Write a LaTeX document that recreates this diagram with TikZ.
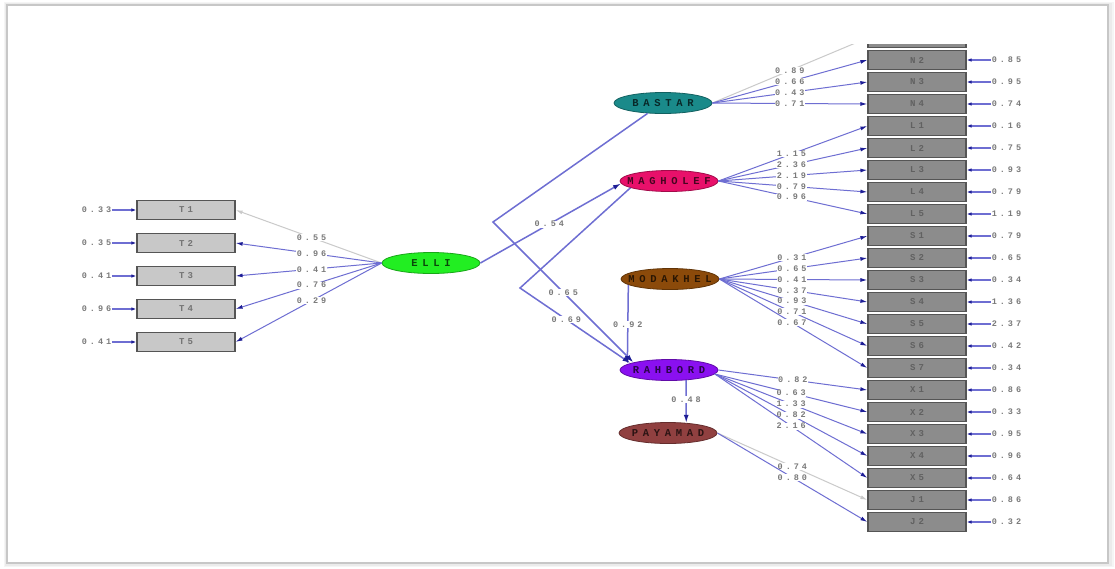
\documentclass[tikz,border=0pt]{standalone}
\usepackage{fontspec}
\usetikzlibrary{arrows.meta,shapes.geometric}
\newfontfamily\coeffont[LetterSpace=35]{Liberation Mono}
\newfontfamily\latfont[LetterSpace=45]{Liberation Mono}
\newcommand\ctr[1]{\makebox[0pt]{#1}}

\definecolor{cELLI}{HTML}{22EE22}
\definecolor{cBASTAR}{HTML}{1A8A8A}
\definecolor{cMAGHOLEF}{HTML}{E8106A}
\definecolor{cMODAKHEL}{HTML}{8B4A0A}
\definecolor{cRAHBORD}{HTML}{8A10F0}
\definecolor{cPAYAMAD}{HTML}{904040}
\definecolor{lineblue}{HTML}{6E6ED2}
\definecolor{tipblue}{HTML}{1E1E96}
\definecolor{nsgray}{HTML}{CACACA}
\definecolor{boxlight}{HTML}{C8C8C8}
\definecolor{boxdark}{HTML}{8C8C8C}
\definecolor{boxedge}{HTML}{555555}
\definecolor{numgray}{HTML}{7A7A7A}

\begin{document}
\begin{tikzpicture}[x=1pt,y=-1pt,
  lat/.style={ellipse, minimum width=98pt, minimum height=21pt, inner sep=0pt,
    line width=0.8pt, font=\latfont\bfseries\fontsize{10.5}{11}\selectfont,
    fill=#1, draw=#1!70!black, text=#1!30!black},
  obsL/.style={rectangle, minimum width=98pt, minimum height=19pt, inner sep=0pt,
    fill=boxlight, draw=boxedge, line width=1.2pt, text=black!55,
    font=\coeffont\bfseries\fontsize{9}{10}\selectfont},
  obsR/.style={obsL, fill=boxdark, text=black!62},
  coef/.style={fill=white, inner sep=0.6pt, text=numgray,
    font=\coeffont\bfseries\fontsize{8.5}{9}\selectfont},
  errnum/.style={inner sep=1pt, text=numgray,
    font=\coeffont\bfseries\fontsize{8.5}{9}\selectfont},
  load/.style={draw=lineblue, line width=1pt,
    -{Latex[length=7pt,width=4pt,color=tipblue]}},
  nsload/.style={draw=nsgray, line width=1pt,
    -{Latex[length=7pt,width=4pt,color=nsgray]}},
  struct/.style={draw=lineblue, line width=1.5pt,
    -{Latex[length=8pt,width=5pt,color=tipblue]}},
  errarrow/.style={draw=lineblue, line width=1.1pt,
    -{Latex[length=5pt,width=3.5pt,color=tipblue]}}
]
\useasboundingbox (0,0) rectangle (1115,568);

% window frame with a soft shadow
\fill[black!4] (4,2) rectangle (1114,567);
\fill[black!8] (5,3) rectangle (1112,566);
\draw[black!22, line width=2.2pt, fill=white] (7,5) rectangle (1108,563);

\begin{scope}
\clip (9,44) rectangle (1106,561);

% latent variables (names may run over the ellipse edge)
\node[lat=cELLI]     (ELLI)     at (431,263) {\ctr{ELLI}};
\node[lat=cBASTAR]   (BASTAR)   at (663,103) {\ctr{BASTAR}};
\node[lat=cMAGHOLEF] (MAGHOLEF) at (669,181) {\ctr{MAGHOLEF}};
\node[lat=cMODAKHEL] (MODAKHEL) at (670,279) {\ctr{MODAKHEL}};
\node[lat=cRAHBORD]  (RAHBORD)  at (669,370) {\ctr{RAHBORD}};
\node[lat=cPAYAMAD]  (PAYAMAD)  at (668,433) {\ctr{PAYAMAD}};

% indicators of ELLI with their error variances
\foreach \n/\y/\v in {T1/210/0.33, T2/243/0.35, T3/276/0.41, T4/309/0.96, T5/342/0.41}{
  \node[obsL] (\n) at (186,\y) {\n};
  \node[errnum, anchor=east] (e\n) at ([xshift=-24pt]\n.west) {\v};
  \draw[errarrow] (e\n.east) -- (\n.west);
}

% right-hand indicator column
\node[obsR] (N1) at (917,38) {};
\foreach \n/\v [count=\i] in {N2/0.85, N3/0.95, N4/0.74, L1/0.16, L2/0.75, L3/0.93,
    L4/0.79, L5/1.19, S1/0.79, S2/0.65, S3/0.34, S4/1.36, S5/2.37, S6/0.42, S7/0.34,
    X1/0.86, X2/0.33, X3/0.95, X4/0.96, X5/0.64, J1/0.86, J2/0.32}{
  \node[obsR] (\n) at (917,38+22*\i) {\n};
  \node[errnum, anchor=west] (e\n) at ([xshift=24pt]\n.east) {\v};
  \draw[errarrow] (e\n.west) -- (\n.east);
}

% loadings of ELLI
\draw[nsload] (ELLI.west) -- node[coef, pos=0.48] {0.55} (T1.east);
\foreach \t/\v in {T2/0.96, T3/0.41, T4/0.76, T5/0.29}
  \draw[load] (ELLI.west) -- node[coef, pos=0.48] {\v} (\t.east);

% loadings of BASTAR
\draw[nsload] (BASTAR.east) -- node[coef, pos=0.5] {0.89} (N1.west);
\foreach \t/\v in {N2/0.66, N3/0.43, N4/0.71}
  \draw[load] (BASTAR.east) -- node[coef, pos=0.5] {\v} (\t.west);

% loadings of MAGHOLEF
\foreach \t/\v in {L1/1.15, L2/2.36, L3/2.19, L4/0.79, L5/0.96}
  \draw[load] (MAGHOLEF.east) -- node[coef, pos=0.49] {\v} (\t.west);

% loadings of MODAKHEL
\foreach \t/\v in {S1/0.31, S2/0.65, S3/0.41, S4/0.37, S5/0.93, S6/0.71, S7/0.67}
  \draw[load] (MODAKHEL.east) -- node[coef, pos=0.49] {\v} (\t.west);

% loadings of RAHBORD
\draw[load] (RAHBORD.east) -- node[coef, pos=0.5] {0.82} (X1.west);
\foreach \t/\v in {X2/0.63, X3/1.33, X4/0.82, X5/2.16}
  \draw[load] (RAHBORD.355) -- node[coef, pos=0.5] {\v} (\t.west);

% loadings of PAYAMAD
\draw[nsload] (PAYAMAD.east) -- node[coef, pos=0.5] {0.74} (J1.west);
\draw[load] (PAYAMAD.east) -- node[coef, pos=0.5] {0.80} (J2.west);

% structural paths
\coordinate (bendB) at (493,222);
\coordinate (bendM) at (520,288);
\draw[struct] (ELLI.east) -- node[coef, pos=0.49] {0.54} (MAGHOLEF.183);
\draw[struct] (BASTAR.214) -- (bendB) -- node[coef, pos=0.5] {0.65} (RAHBORD.168);
\draw[struct] (MAGHOLEF.190) -- (bendM) -- node[coef, pos=0.42] {0.69} (RAHBORD.170);
\draw[struct] (MODAKHEL.188) -- node[coef, pos=0.5] {0.92} (RAHBORD.172);
\draw[struct] (RAHBORD.329) -- node[coef, pos=0.45] {0.48} (PAYAMAD.29);
\end{scope}
\end{tikzpicture}
\end{document}
